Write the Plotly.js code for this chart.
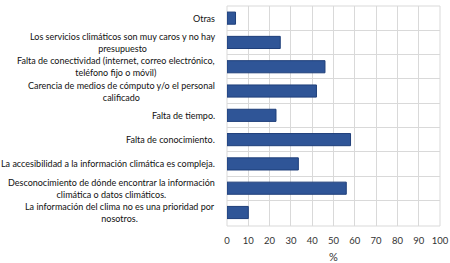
<!DOCTYPE html>
<html>
<head>
<meta charset="utf-8">
<script src="https://cdn.plot.ly/plotly-3.0.1.min.js"></script>
<style>html,body{margin:0;padding:0;background:#fff;}#chart{width:450px;height:263px;}</style>
</head>
<body>
<div id="chart"></div>
<script>
const categories = [
  "Otras",
  "Los servicios climáticos son muy caros y no hay<br>presupuesto",
  "Falta de conectividad (internet, correo electrónico,<br>teléfono fijo o móvil)",
  "Carencia de medios de cómputo y/o el personal<br>calificado",
  "Falta de tiempo.",
  "Falta de conocimiento.",
  "La accesibilidad a la información climática es compleja.",
  "Desconocimiento de dónde encontrar la información<br>climática o datos climáticos.",
  "La información del clima no es una prioridad por<br>nosotros."
];
const values = [4, 25, 46, 42, 23, 58, 33.5, 56, 10];
const xTicks = [0, 10, 20, 30, 40, 50, 60, 70, 80, 90, 100];
const xTitle = "%";

const FONT = "Lato, 'Open Sans', sans-serif";
const keys = categories.map((c, i) => "c" + i);

const trace = {
  type: "bar",
  orientation: "h",
  x: values,
  y: keys,
  width: 0.5,
  marker: { color: "#2F5597", line: { color: "#1F3F7A", width: 1 } },
  hoverinfo: "x"
};

const annotations = categories.map((c, i) => ({
  text: c,
  xref: "paper",
  yref: "y",
  x: -0.045,
  y: keys[i],
  xanchor: "right",
  yanchor: "middle",
  align: "center",
  showarrow: false,
  font: { family: FONT, size: 9, color: "#111" }
}));

const layout = {
  width: 450,
  height: 263,
  margin: { l: 227, r: 10, t: 6, b: 37 },
  paper_bgcolor: "#fff",
  plot_bgcolor: "#fff",
  showlegend: false,
  font: { family: FONT, size: 9.5, color: "#333" },
  xaxis: {
    range: [0, 100],
    tickvals: xTicks,
    ticks: "outside",
    ticklen: 6,
    tickcolor: "rgba(0,0,0,0)",
    showgrid: true,
    gridcolor: "#d9d9d9",
    gridwidth: 1,
    zeroline: false,
    showline: false,
    automargin: false,
    tickfont: { family: FONT, size: 9.5, color: "#333" },
    title: { text: xTitle, font: { family: FONT, size: 11, color: "#333" } }
  },
  yaxis: {
    type: "category",
    categoryorder: "array",
    categoryarray: keys,
    autorange: "reversed",
    showticklabels: false,
    ticks: "",
    tickson: "boundaries",
    showgrid: true,
    gridcolor: "#d9d9d9",
    gridwidth: 1,
    zeroline: false,
    showline: false
  },
  shapes: [
    { type: "rect", xref: "paper", yref: "paper", x0: 0, x1: 1, y0: 0, y1: 1,
      line: { color: "#d9d9d9", width: 1 }, fillcolor: "rgba(0,0,0,0)", layer: "below" }
  ],
  annotations: annotations
};

Plotly.newPlot("chart", [trace], layout, { displayModeBar: false, staticPlot: true });
</script>
</body>
</html>
